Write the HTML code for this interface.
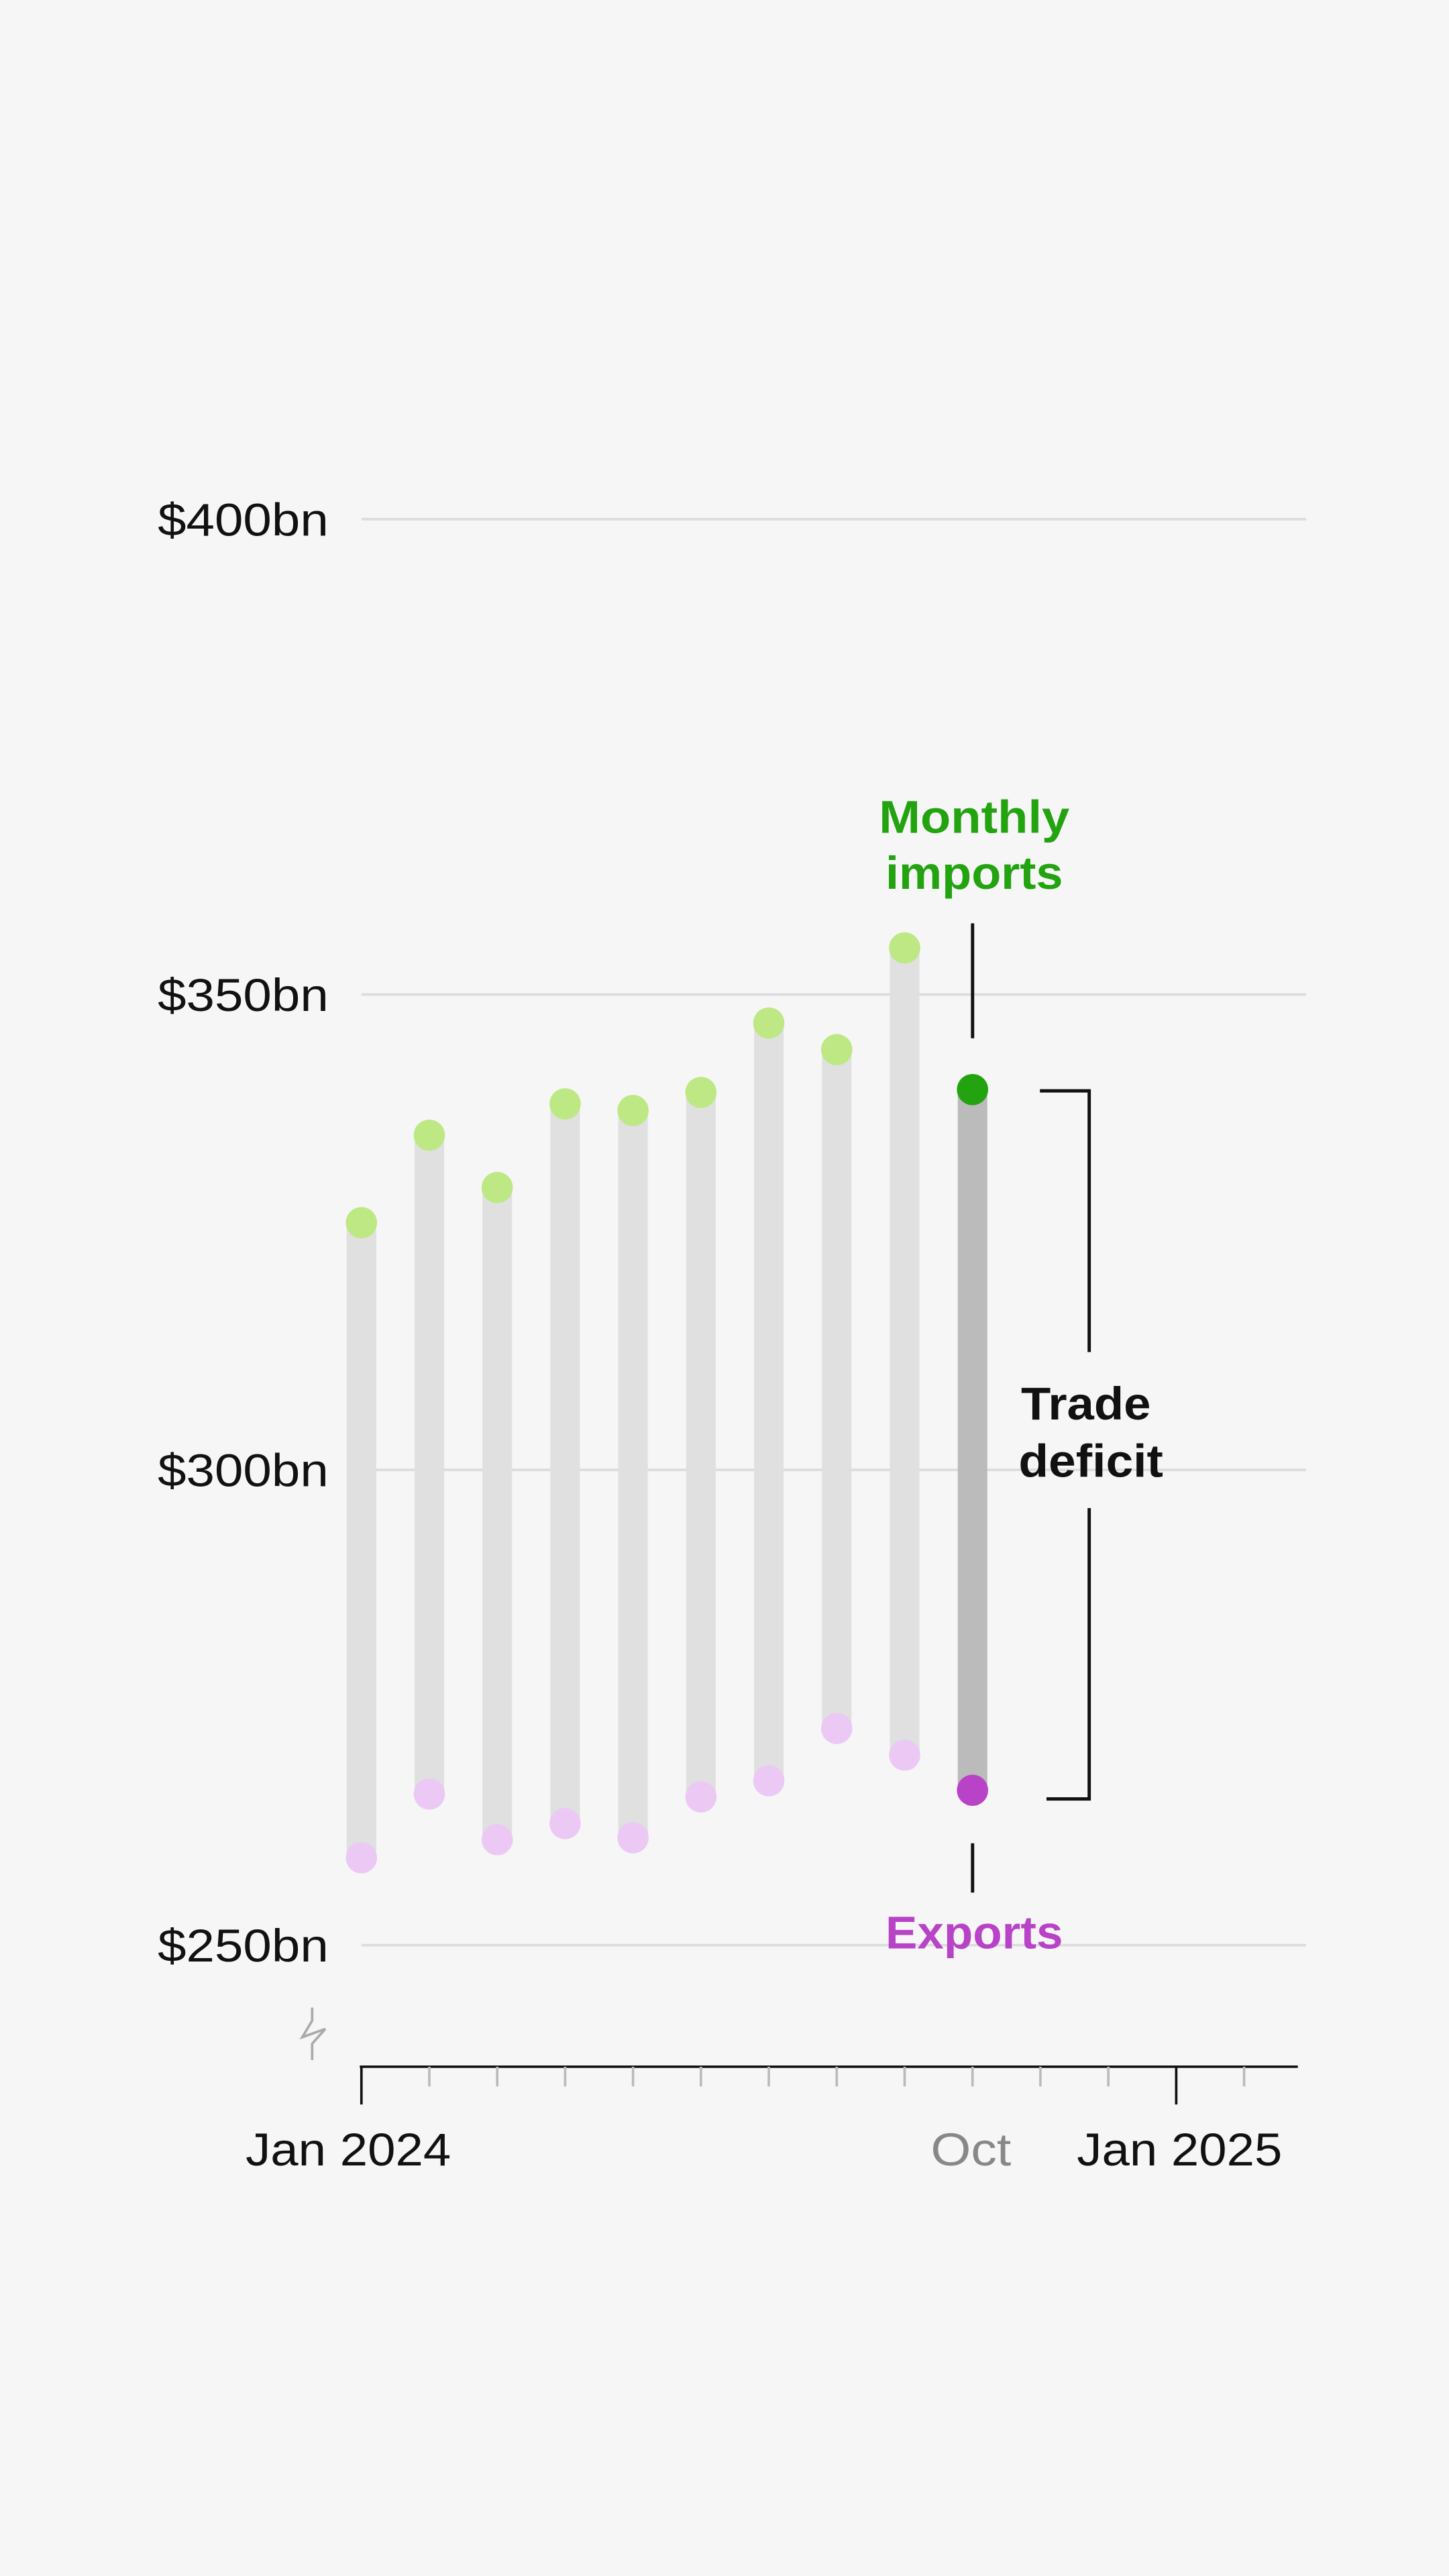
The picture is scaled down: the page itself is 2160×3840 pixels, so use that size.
<!DOCTYPE html>
<html><head><meta charset="utf-8"><style>
html,body{margin:0;padding:0;background:#f6f6f6;}
svg{display:block;font-family:"Liberation Sans","DejaVu Sans",sans-serif;}
</style></head><body>
<svg id="chart" width="2160" height="3840" viewBox="0 0 882 1568" xmlns="http://www.w3.org/2000/svg">
<rect width="882" height="1568" fill="#f6f6f6"/>
<g id="grid"></g>
<g id="bars"></g>
<g id="axis"></g>
<g id="ann"></g>
</svg>
<script>
const months = ["Jan","Feb","Mar","Apr","May","Jun","Jul","Aug","Sep","Oct"];
const imports = [326.0,335.2,329.7,338.5,337.8,339.7,347.0,344.2,354.9,340.0];
const exportsV = [259.2,265.9,261.1,262.8,261.3,265.6,267.3,272.8,270.0,266.3];
const yTicks = [400,350,300,250];
const yTickLabels = ["$400bn","$350bn","$300bn","$250bn"];

const NS="http://www.w3.org/2000/svg";
function y(v){return 316+(400-v)*5.787;}
function x(i){return 220+i*41.33;}
function mk(tag,attrs,parent,txt){const e=document.createElementNS(NS,tag);for(const k in attrs)e.setAttribute(k,attrs[k]);if(txt!==undefined)e.textContent=txt;parent.appendChild(e);return e;}
const grid=document.getElementById('grid'),bars=document.getElementById('bars'),axis=document.getElementById('axis'),ann=document.getElementById('ann');

yTicks.forEach((t,i)=>{
  const l=mk('line',{x1:220,x2:795,y1:y(t),y2:y(t),stroke:'#dcdcdc','stroke-width':1.5},grid);
  
  
  const tx=mk('text',{x:200,y:y(t)+10,'text-anchor':'end','font-size':28,fill:'#111',textLength:104,lengthAdjust:'spacingAndGlyphs'},grid,yTickLabels[i]);
  
  
});

months.forEach((m,i)=>{
  const last=i===months.length-1;
  const r=mk('rect',{x:x(i)-9,y:y(imports[i]),width:18,height:y(exportsV[i])-y(imports[i]),fill:last?'#bbbbbb':'#e0e0e0'},bars);
  
  
  const ci=mk('circle',{cx:x(i),cy:y(imports[i]),r:9.5,fill:last?'#22a30f':'#bde883'},bars);
  
  
  const ce=mk('circle',{cx:x(i),cy:y(exportsV[i]),r:9.5,fill:last?'#b843c7':'#ebc9f4'},bars);
  
  
});

const ax=mk('line',{x1:219,x2:790,y1:1258,y2:1258,stroke:'#111','stroke-width':1.5},axis);


for(let i=0;i<=13;i++){
  const major=(i===0||i===12);
  const t=mk('line',{x1:x(i),x2:x(i),y1:1258,y2:major?1281:1270,stroke:major?'#111':'#bbb','stroke-width':1.5},axis);
  
  
}
const xl=[["Jan 2024",212,'#111',125],["Oct",591,'#888',49],["Jan 2025",718,'#111',125]];
xl.forEach(a=>{
  const t=mk('text',{x:a[1],y:1318,'text-anchor':'middle','font-size':28,fill:a[2],textLength:a[3],lengthAdjust:'spacingAndGlyphs'},axis,a[0]);
  
  
});
const br=mk('polyline',{points:'190,1222 190,1230 184,1240 198,1235 190,1244 190,1254',fill:'none',stroke:'#aaa','stroke-width':1.5},axis);



const g1=mk('g',{},ann);


mk('text',{x:593,y:507,'text-anchor':'middle','font-size':28,'font-weight':'bold',fill:'#22a30f',textLength:116,lengthAdjust:'spacingAndGlyphs'},g1,'Monthly');
mk('text',{x:593,y:541,'text-anchor':'middle','font-size':28,'font-weight':'bold',fill:'#22a30f',textLength:108,lengthAdjust:'spacingAndGlyphs'},g1,'imports');
mk('line',{x1:592,x2:592,y1:562,y2:632,stroke:'#111','stroke-width':2},g1);

const g2=mk('g',{},ann);


mk('line',{x1:592,x2:592,y1:1122,y2:1152,stroke:'#111','stroke-width':2},g2);
mk('text',{x:593,y:1186,'text-anchor':'middle','font-size':28,'font-weight':'bold',fill:'#b843c7',textLength:108,lengthAdjust:'spacingAndGlyphs'},g2,'Exports');

const g3=mk('g',{},ann);


mk('polyline',{points:'633,664 663,664 663,823',fill:'none',stroke:'#111','stroke-width':2},g3);
mk('polyline',{points:'663,918 663,1095 637,1095',fill:'none',stroke:'#111','stroke-width':2},g3);
mk('text',{x:661,y:864,'text-anchor':'middle','font-size':28,'font-weight':'bold',fill:'#111',textLength:79,lengthAdjust:'spacingAndGlyphs'},g3,'Trade');
mk('text',{x:664,y:899,'text-anchor':'middle','font-size':28,'font-weight':'bold',fill:'#111',textLength:88,lengthAdjust:'spacingAndGlyphs'},g3,'deficit');
</script>
</body></html>
